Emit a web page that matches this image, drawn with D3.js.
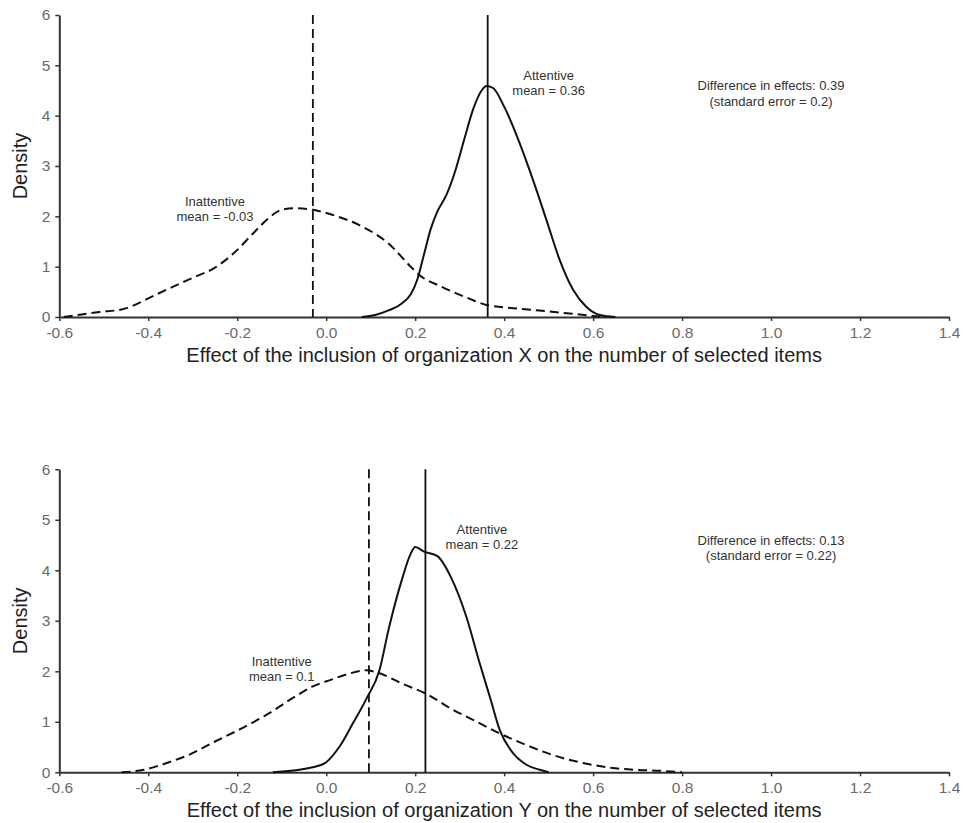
<!DOCTYPE html>
<html>
<head>
<meta charset="utf-8">
<script src="https://cdn.jsdelivr.net/npm/d3@7"></script>
<style>
  body { margin: 0; background: #fff; }
  svg { display: block; font-family: "Liberation Sans", Arial, sans-serif; }
</style>
</head>
<body>
<div id="chart"></div>
<script>
// Tick labels
const xTicks = [-0.6, -0.4, -0.2, 0.0, 0.2, 0.4, 0.6, 0.8, 1.0, 1.2, 1.4];
const yTicks = [0, 1, 2, 3, 4, 5, 6];

// Panel X : inattentive density (dashed)
const xInattX = [-0.59, -0.55, -0.51, -0.46, -0.43, -0.40, -0.34, -0.30, -0.25, -0.21, -0.16, -0.13, -0.10, -0.07, -0.03, 0.01, 0.08, 0.14, 0.19, 0.21, 0.26, 0.32, 0.36, 0.43, 0.50, 0.58, 0.62];
const yInattX = [0, 0.05, 0.10, 0.15, 0.24, 0.37, 0.62, 0.78, 0.98, 1.25, 1.70, 1.96, 2.13, 2.16, 2.13, 2.04, 1.80, 1.46, 1.00, 0.83, 0.60, 0.37, 0.24, 0.17, 0.11, 0.04, 0];
// Panel X : attentive density (solid)
const xAttX = [0.08, 0.11, 0.14, 0.17, 0.19, 0.205, 0.22, 0.235, 0.25, 0.27, 0.29, 0.31, 0.33, 0.35, 0.36, 0.375, 0.40, 0.435, 0.465, 0.495, 0.525, 0.555, 0.585, 0.615, 0.65];
const yAttX = [0, 0.04, 0.13, 0.27, 0.45, 0.75, 1.25, 1.75, 2.10, 2.42, 2.90, 3.52, 4.12, 4.51, 4.59, 4.55, 4.18, 3.45, 2.72, 1.93, 1.13, 0.54, 0.20, 0.04, 0];

// Panel Y : inattentive density (dashed)
const xInattY = [-0.46, -0.41, -0.36, -0.31, -0.25, -0.19, -0.13, -0.07, -0.03, 0.01, 0.05, 0.09, 0.12, 0.17, 0.23, 0.28, 0.33, 0.39, 0.45, 0.51, 0.58, 0.65, 0.69, 0.75, 0.80];
const yInattY = [0, 0.05, 0.18, 0.34, 0.61, 0.87, 1.16, 1.50, 1.70, 1.83, 1.95, 2.02, 1.96, 1.76, 1.53, 1.26, 1.04, 0.77, 0.54, 0.34, 0.18, 0.08, 0.05, 0.03, 0];
// Panel Y : attentive density (solid)
const xAttY = [-0.12, -0.03, 0.0, 0.03, 0.06, 0.09, 0.12, 0.14, 0.17, 0.19, 0.20, 0.22, 0.25, 0.28, 0.315, 0.345, 0.37, 0.39, 0.42, 0.45, 0.48, 0.50];
const yAttY = [0, 0.10, 0.20, 0.51, 0.97, 1.45, 2.03, 2.82, 3.81, 4.33, 4.46, 4.37, 4.28, 3.87, 3.08, 2.16, 1.43, 0.84, 0.38, 0.15, 0.05, 0];

// Group means (vertical lines) and labels
const meansX = [-0.03, 0.363];
const meansY = [0.096, 0.223];
const meanLabelsX = ["mean = -0.03", "mean = 0.36"];
const meanLabelsY = ["mean = 0.1", "mean = 0.22"];
const diffLabelsX = ["Difference in effects: 0.39", "(standard error = 0.2)"];
const diffLabelsY = ["Difference in effects: 0.13", "(standard error = 0.22)"];
const groups = ["Inattentive", "Attentive"];

const width = 966;
const height = 823;

const svg = d3.select("#chart")
  .append("svg")
  .attr("width", width)
  .attr("height", height);

const zip = (xs, ys) => xs.map((x, i) => [x, ys[i]]);

function drawPanel(p) {
  const x = d3.scaleLinear().domain([-0.6, 1.4]).range([59.3, 949]);
  const y = d3.scaleLinear().domain([0, 6]).range([p.bottom, p.top]);

  const g = svg.append("g");

  // Axes
  const ax = g.append("g")
    .attr("transform", `translate(0, ${p.bottom})`)
    .call(d3.axisBottom(x).tickValues(xTicks).tickFormat(d => d.toFixed(1)).tickSize(4).tickPadding(6).tickSizeOuter(0));
  const ay = g.append("g")
    .attr("transform", `translate(${x(-0.6)}, 0)`)
    .call(d3.axisLeft(y).tickValues(yTicks).tickFormat(d => String(d)).tickSize(4).tickPadding(5).tickSizeOuter(0));

  [ax, ay].forEach(a => {
    a.select(".domain").attr("stroke", "#333").attr("stroke-width", 2);
    a.selectAll(".tick line").attr("stroke", "#333").attr("stroke-width", 1.5);
    a.selectAll(".tick text")
      .style("font-size", "15.5px")
      .style("font-family", "Liberation Sans, Arial, sans-serif")
      .attr("fill", "#6a6a6a");
  });

  // Axis titles
  g.append("text")
    .attr("x", (x(-0.6) + x(1.4)) / 2)
    .attr("y", p.bottom + 45)
    .attr("text-anchor", "middle")
    .style("font-size", "20px")
    .attr("fill", "#222")
    .text(p.xTitle);

  g.append("text")
    .attr("transform", `translate(27, ${(p.top + p.bottom) / 2}) rotate(-90)`)
    .attr("text-anchor", "middle")
    .style("font-size", "20px")
    .attr("fill", "#222")
    .text("Density");

  const line = d3.line()
    .x(d => x(d[0]))
    .y(d => y(d[1]))
    .curve(d3.curveMonotoneX);

  // Density curves
  g.append("path")
    .datum(zip(p.xInatt, p.yInatt))
    .attr("d", line)
    .attr("fill", "none")
    .attr("stroke", "#111")
    .attr("stroke-width", 2)
    .attr("stroke-dasharray", "9,5");

  g.append("path")
    .datum(zip(p.xAtt, p.yAtt))
    .attr("d", line)
    .attr("fill", "none")
    .attr("stroke", "#111")
    .attr("stroke-width", 2);

  // Mean lines
  g.selectAll(".mean")
    .data(p.means)
    .enter()
    .append("line")
    .attr("class", "mean")
    .attr("x1", d => x(d))
    .attr("x2", d => x(d))
    .attr("y1", y(6))
    .attr("y2", y(0))
    .attr("stroke", "#111")
    .attr("stroke-width", 1.8)
    .attr("stroke-dasharray", (d, i) => i === 0 ? "9,5" : null);

  // Annotations (two lines each, centred on a data point)
  const notes = [
    {pos: p.inattPos, lines: [groups[0], p.meanLabels[0]]},
    {pos: p.attPos, lines: [groups[1], p.meanLabels[1]]},
    {pos: p.diffPos, lines: p.diffLabels}
  ];
  notes.forEach(n => {
    const t = g.append("text")
      .attr("text-anchor", "middle")
      .style("font-size", "13px")
      .attr("fill", "#333");
    n.lines.forEach((s, i) => {
      t.append("tspan")
        .attr("x", x(n.pos[0]))
        .attr("y", y(n.pos[1]) + (i === 0 ? -3.5 : 12))
        .text(s);
    });
  });
}

drawPanel({
  top: 15, bottom: 317,
  xInatt: xInattX, yInatt: yInattX, xAtt: xAttX, yAtt: yAttX,
  means: meansX, meanLabels: meanLabelsX, diffLabels: diffLabelsX,
  inattPos: [-0.25, 2.14], attPos: [0.50, 4.64], diffPos: [1.0, 4.44],
  xTitle: "Effect of the inclusion of organization X on the number of selected items"
});

drawPanel({
  top: 469.3, bottom: 772.3,
  xInatt: xInattY, yInatt: yInattY, xAtt: xAttY, yAtt: yAttY,
  means: meansY, meanLabels: meanLabelsY, diffLabels: diffLabelsY,
  inattPos: [-0.10, 2.04], attPos: [0.35, 4.65], diffPos: [1.0, 4.44],
  xTitle: "Effect of the inclusion of organization Y on the number of selected items"
});
</script>
</body>
</html>
